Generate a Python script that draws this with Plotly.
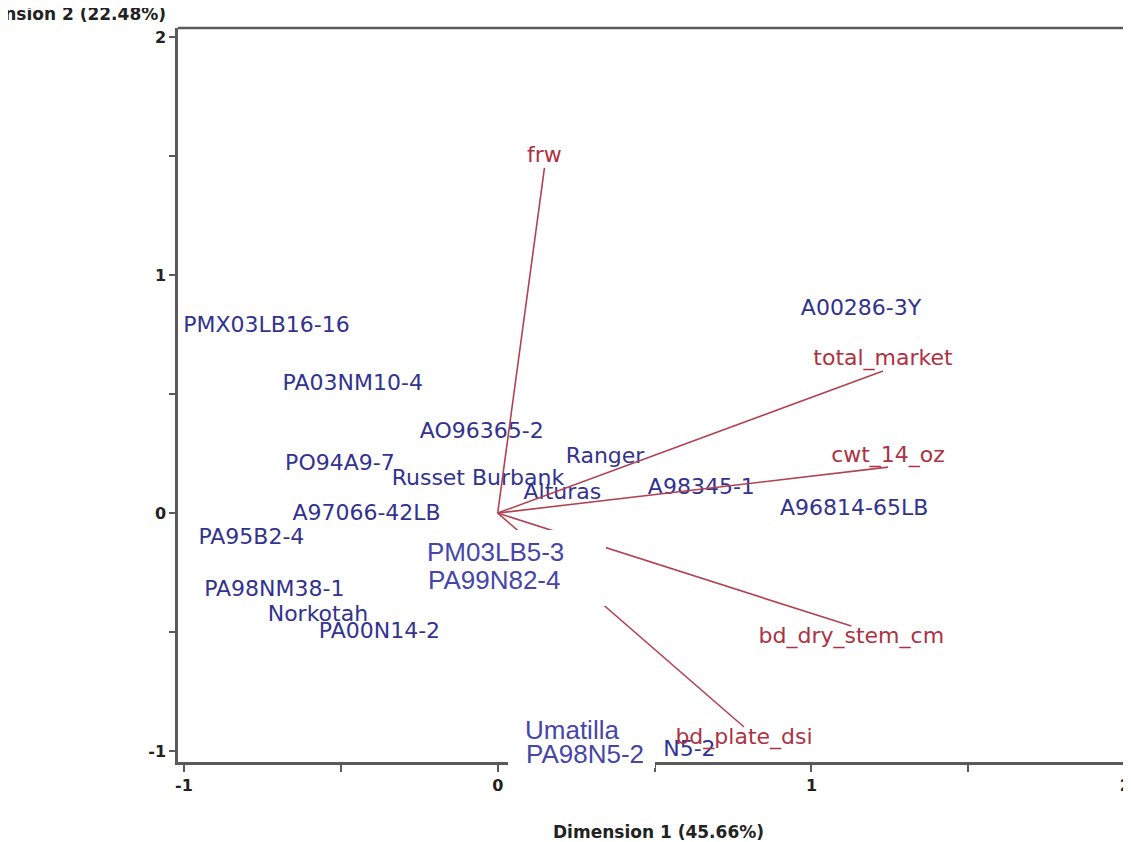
import plotly.graph_objects as go

# ---- observation scores (Dimension 1, Dimension 2) ----
obs_names = ["PMX03LB16-16", "A00286-3Y", "PA03NM10-4", "AO96365-2", "Ranger",
             "PO94A9-7", "Russet Burbank", "Alturas", "A98345-1", "A96814-65LB",
             "A97066-42LB", "PA95B2-4", "PA98NM38-1", "Norkotah", "PA00N14-2", "N5-2"]
obs_d1 = [-0.737, 1.158, -0.462, -0.051, 0.342, -0.503, -0.063, 0.206, 0.649, 1.136,
          -0.418, -0.785, -0.712, -0.573, -0.377, 0.611]
obs_d2 = [0.782, 0.857, 0.542, 0.340, 0.235, 0.206, 0.139, 0.084, 0.105, 0.013,
          -0.008, -0.105, -0.324, -0.429, -0.500, -0.996]

# observations whose labels sit on white label boxes
boxed_names = ["PM03LB5-3", "PA99N82-4", "Umatilla", "PA98N5-2"]
boxed_d1 = [-0.006, -0.009, 0.237, 0.278]
boxed_d2 = [-0.164, -0.282, -0.912, -1.013]

# ---- variable vectors ----
var_names = ["frw", "total_market", "cwt_14_oz", "bd_dry_stem_cm", "bd_plate_dsi"]
var_d1 = [0.149, 1.228, 1.244, 1.127, 0.785]
var_d2 = [1.450, 0.597, 0.193, -0.475, -0.899]

x_ticks = [-1, 0, 1, 2]
y_ticks = [-1, 0, 1, 2]

BLUE = "#32328f"
BLUE2 = "#4646aa"
RED = "#ad3242"
LINE_RED = "#b24252"
AXIS = "#5a5a5a"

fig = go.Figure()

fig.add_trace(go.Scatter(
    x=obs_d1, y=obs_d2, mode="text", text=obs_names, textposition="middle center",
    textfont=dict(family="DejaVu Sans", size=22, color=BLUE), showlegend=False,
    hoverinfo="skip"))

for name, vx, vy in zip(var_names, var_d1, var_d2):
    fig.add_trace(go.Scatter(x=[0, vx], y=[0, vy], mode="lines",
                             line=dict(color=LINE_RED, width=1.6),
                             showlegend=False, hoverinfo="skip"))

fig.add_trace(go.Scatter(
    x=var_d1, y=var_d2, mode="text", text=var_names,
    textposition=["top center" if v > 0 else "bottom center" for v in var_d2],
    textfont=dict(family="DejaVu Sans", size=22, color=RED), showlegend=False,
    hoverinfo="skip"))

annotations = []
# white label boxes (occlude lines / axis line behind the boxed labels)
boxes = [(-0.237, 0.342, -0.071, -0.391), (0.032, 0.497, -0.853, -1.071)]
for x0, x1, y0, y1 in boxes:
    w = (x1 - x0) * 315.4
    h = (y0 - y1) * 238.0
    annotations.append(dict(x=x0, y=y0, xref="x", yref="y", xanchor="left", yanchor="top",
                            text=" ", showarrow=False, bgcolor="white", width=w, height=h,
                            borderpad=0, borderwidth=0))
for name, bx, by in zip(boxed_names, boxed_d1, boxed_d2):
    annotations.append(dict(x=bx, y=by, xref="x", yref="y", text=name, showarrow=False,
                            xanchor="center", yanchor="middle",
                            font=dict(family="Liberation Sans", size=26, color=BLUE2)))

annotations.append(dict(x=0.507, y=-0.0954, xref="paper", yref="paper", yanchor="middle",
                        text="Dimension 1 (45.66%)", showarrow=False,
                        font=dict(family="DejaVu Sans", size=17, color="#222222", weight="bold")))
annotations.append(dict(x=-0.0105, y=1.019, xref="paper", yref="paper", xanchor="right",
                        yanchor="middle", text="Dimension 2 (22.48%)", showarrow=False,
                        font=dict(family="DejaVu Sans", size=17, color="#222222", weight="bold")))

# the page body adds an 8 px offset, margins compensate for it
fig.update_layout(
    width=1131, height=842,
    margin=dict(l=170, r=8, t=20, b=88),
    paper_bgcolor="white", plot_bgcolor="white",
    annotations=annotations,
    shapes=[dict(type="line", xref="paper", yref="paper", x0=0, x1=1, y0=1, y1=1,
                 line=dict(color=AXIS, width=2.5))],
)

tickfont = dict(family="DejaVu Sans", size=16, color="#222222", weight="bold")
fig.update_xaxes(range=[-1.019, 2.0025], tickvals=x_ticks, ticktext=[str(t) for t in x_ticks],
                 showgrid=False, zeroline=False, showline=True, linecolor=AXIS, linewidth=2.5,
                 ticks="outside", ticklen=7, tickwidth=1.5, tickcolor=AXIS, tickfont=tickfont,
                 minor=dict(tickvals=[-0.5, 0.5, 1.5], ticks="outside", ticklen=7, tickwidth=1.5,
                            tickcolor=AXIS, showgrid=False))
fig.update_yaxes(range=[-1.046, 2.038], tickvals=y_ticks, ticktext=[str(t) for t in y_ticks],
                 showgrid=False, zeroline=False, showline=True, linecolor=AXIS, linewidth=2.5,
                 ticks="outside", ticklen=6, tickwidth=1.5, tickcolor=AXIS, tickfont=tickfont,
                 minor=dict(tickvals=[-0.5, 0.5, 1.5], ticks="outside", ticklen=6, tickwidth=1.5,
                            tickcolor=AXIS, showgrid=False))

fig.write_html("out.html")
